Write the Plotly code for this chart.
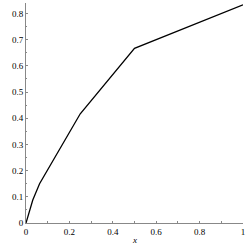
import plotly.graph_objects as go

x_vals = [0, 0.03125, 0.0625, 0.125, 0.25, 0.5, 1.0]
y_vals = [0, 0.088, 0.15, 0.24, 0.417, 0.667, 0.833]

x_tickvals = [0, 0.2, 0.4, 0.6, 0.8, 1]
x_ticktext = ["0", "0.2", "0.4", "0.6", "0.8", "1"]
y_tickvals = [0, 0.1, 0.2, 0.3, 0.4, 0.5, 0.6, 0.7, 0.8]
y_ticktext = ["0", "0.1", "0.2", "0.3", "0.4", "0.5", "0.6", "0.7", "0.8"]
x_title = "x"

fig = go.Figure()
fig.add_trace(go.Scatter(x=x_vals, y=y_vals, mode="lines",
                         line=dict(color="black", width=1.3),
                         showlegend=False, hoverinfo="skip"))

font = dict(family="Liberation Serif", size=9, color="black")
fig.update_layout(
    width=249, height=249,
    margin=dict(l=26, r=6, t=3, b=26),
    paper_bgcolor="white", plot_bgcolor="white",
    font=font,
)
fig.update_xaxes(range=[0, 1], showgrid=False, zeroline=False,
                 showline=True, linecolor="#888888", linewidth=1,
                 tickvals=x_tickvals, ticktext=x_ticktext,
                 ticks="inside", ticklen=2, tickcolor="#888888",
                 minor=dict(ticks="inside", ticklen=2, tickcolor="#888888", dtick=0.1),
                 tickfont=font, ticklabeloverflow="allow")
fig.update_yaxes(range=[0, 0.84], showgrid=False, zeroline=False,
                 showline=True, linecolor="#888888", linewidth=1,
                 tickvals=y_tickvals, ticktext=y_ticktext,
                 ticks="inside", ticklen=2, tickcolor="#888888",
                 minor=dict(ticks="inside", ticklen=1, tickcolor="#888888", dtick=0.05),
                 tickfont=font, ticklabeloverflow="allow")
fig.add_annotation(text="<i>" + x_title + "</i>", xref="paper", yref="paper",
                   x=0.5, y=-0.077, yanchor="middle", xanchor="center",
                   showarrow=False, font=font)

fig.write_html("out.html", config={"displayModeBar": False},
               post_script="document.body.style.margin='0';document.body.style.overflow='hidden';")
